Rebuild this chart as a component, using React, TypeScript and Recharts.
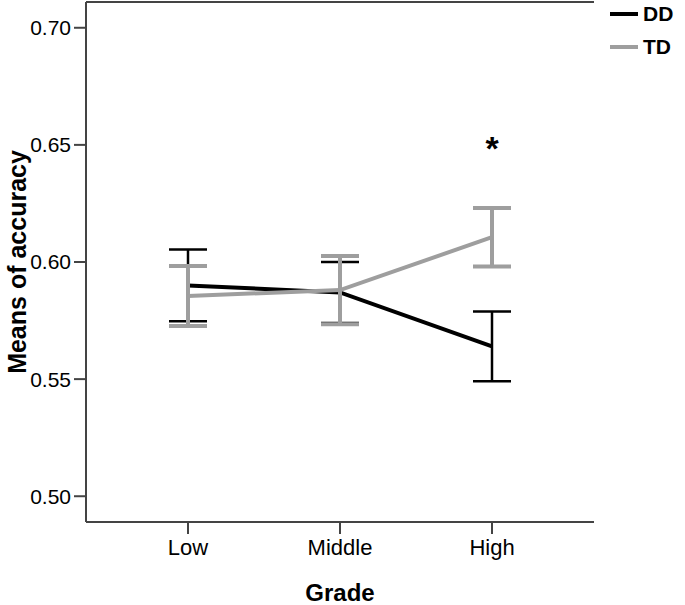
import { LineChart, Line, XAxis, YAxis, ErrorBar, Legend, ReferenceDot } from "recharts";

const grades = ["Low", "Middle", "High"];
const ddMeans = [0.59, 0.587, 0.564];
const ddErrors = [0.0153, 0.013, 0.0149];
const tdMeans = [0.5855, 0.588, 0.6106];
const tdErrors = [0.0128, 0.0146, 0.0125];
const yTicks = [0.5, 0.55, 0.6, 0.65, 0.7];
const starGrade = "High";
const starValue = 0.65;

const data = grades.map((grade, i) => ({
	grade,
	DD: ddMeans[i],
	ddErr: ddErrors[i],
	TD: tdMeans[i],
	tdErr: tdErrors[i],
}));

const FONT = "'Liberation Sans', Arial, sans-serif";
const AXIS = "#444";
const Y_DOMAIN: [number, number] = [0.489, 0.711];

const LegendBox = () => (
	<div style={{ fontFamily: FONT }}>
		{[
			{ name: "DD", color: "#000" },
			{ name: "TD", color: "#9e9e9e" },
		].map((s) => (
			<div
				key={s.name}
				style={{ display: "flex", alignItems: "center", height: 33 }}
			>
				<div style={{ width: 28, height: 4, background: s.color, marginRight: 5 }} />
				<span style={{ fontSize: 21, fontWeight: "bold", color: "#000" }}>{s.name}</span>
			</div>
		))}
	</div>
);

const App = () => {
	return (
		<div style={{ position: "absolute", left: 0, top: 0, background: "#fff" }}>
			<LineChart
				width={685}
				height={605}
				data={data}
				margin={{ top: 1, right: 91, left: 0, bottom: 0 }}
			>
				<XAxis
					dataKey="grade"
					scale="point"
					padding={{ left: 102, right: 102 }}
					height={83}
					tickSize={12}
					tickMargin={5}
					stroke={AXIS}
					strokeWidth={2}
					tick={{ fill: "#000", fontSize: 22, fontFamily: FONT }}
					label={{
						value: "Grade",
						position: "insideBottom",
						offset: 4,
						style: { fontSize: 24, fontWeight: "bold", fill: "#000", fontFamily: FONT },
					}}
				/>
				<XAxis
					xAxisId="top"
					dataKey="grade"
					scale="point"
					padding={{ left: 102, right: 102 }}
					orientation="top"
					height={1}
					tick={false}
					tickLine={false}
					stroke={AXIS}
					strokeWidth={2}
				/>
				<YAxis
					domain={Y_DOMAIN}
					ticks={yTicks}
					width={86}
					tickSize={12}
					tickMargin={3}
					stroke={AXIS}
					strokeWidth={2}
					tickFormatter={(v: number) => v.toFixed(2)}
					tick={{ fill: "#000", fontSize: 21, fontFamily: FONT }}
					label={{
						value: "Means of accuracy",
						angle: -90,
						position: "insideLeft",
						offset: 17,
						style: {
							textAnchor: "middle",
							fontSize: 25,
							fontWeight: "bold",
							fill: "#000",
							fontFamily: FONT,
						},
					}}
				/>
				<YAxis
					yAxisId="right"
					orientation="right"
					width={0}
					domain={Y_DOMAIN}
					tick={false}
					tickLine={false}
					stroke={AXIS}
					strokeWidth={2}
				/>
				<Legend
					layout="vertical"
					verticalAlign="middle"
					align="center"
					content={<LegendBox />}
					wrapperStyle={{ left: 610, top: -3, width: 75 }}
				/>
				{/* invisible series so the frame axes on top/right get drawn */}
				<Line
					xAxisId="top"
					yAxisId="right"
					dataKey="DD"
					stroke="none"
					dot={false}
					legendType="none"
					isAnimationActive={false}
				/>
				<Line
					dataKey="DD"
					stroke="#000"
					strokeWidth={4}
					dot={false}
					isAnimationActive={false}
				>
					<ErrorBar dataKey="ddErr" direction="y" width={19} stroke="#000" strokeWidth={2.5} />
				</Line>
				<Line
					dataKey="TD"
					stroke="#9e9e9e"
					strokeWidth={4}
					dot={false}
					isAnimationActive={false}
				>
					<ErrorBar dataKey="tdErr" direction="y" width={19} stroke="#9e9e9e" strokeWidth={4} />
				</Line>
				<ReferenceDot
					x={starGrade}
					y={starValue}
					r={0}
					label={{
						value: "*",
						position: "center",
						dy: 3,
						style: { fontSize: 34, fontWeight: "bold", fill: "#000", fontFamily: FONT },
					}}
				/>
			</LineChart>
		</div>
	);
};

export default App;
